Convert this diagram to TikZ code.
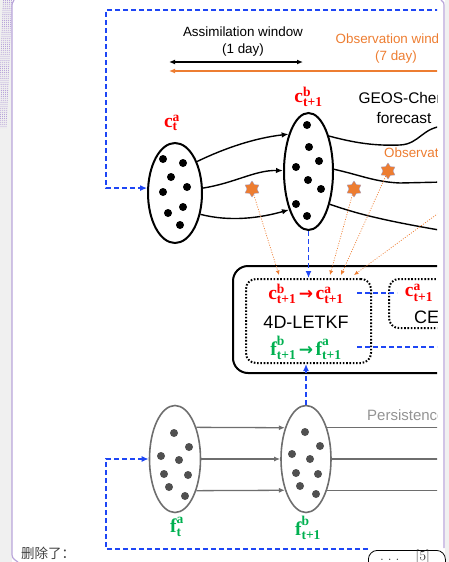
\documentclass[tikz,border=0pt]{standalone}
\usepackage{fix-cm}
\usepackage[no-math]{fontspec}
\setmainfont{Liberation Sans}
\newfontfamily\cjk{Noto Sans CJK SC}
\newfontfamily\lmr{Latin Modern Roman}
\newfontfamily\lser{Liberation Serif}
\newfontfamily\dvs{DejaVu Sans}
\usetikzlibrary{shapes.geometric,arrows.meta,calc}
\definecolor{myred}{RGB}{255,0,0}
\definecolor{mygreen}{RGB}{0,176,80}
\definecolor{myorange}{RGB}{237,125,49}
\definecolor{myblue}{RGB}{30,70,245}
\definecolor{mygray}{RGB}{110,110,110}
\definecolor{dotgray}{RGB}{80,80,80}
\definecolor{mypurple}{RGB}{185,165,218}
\definecolor{margingray}{RGB}{240,240,240}
\newcommand{\lblbig}[1]{\hbox{\lser\bfseries\fontsize{19.5}{20}\selectfont #1}}
\newcommand{\lblsml}[1]{\hbox{\lser\bfseries\fontsize{13.5}{14}\selectfont #1}}
\newcommand{\vv}[3]{$\lblbig{#1}^{\lblsml{#2}}_{\lblsml{#3}}$}
\newcommand{\rarr}{\hspace{2.5pt}{\dvs\bfseries\fontsize{17}{18}\selectfont →}\hspace{2.5pt}}
\begin{document}
\begin{tikzpicture}[x=1pt,y=-1pt,
  blued/.style={myblue, line width=1.8pt, dash pattern=on 5pt off 3pt},
  bluearrow/.style={blued, -{Latex[length=7pt,width=6pt]}},
  blackell/.style={ellipse, draw=black, line width=2pt, inner sep=0pt},
  grayell/.style={ellipse, draw=mygray, line width=1.6pt, inner sep=0pt},
  traj/.style={black, line width=1.4pt},
  trajarrow/.style={traj, -{Latex[length=7pt,width=5.5pt]}},
  ftraj/.style={mygray, line width=1.3pt},
  ftrajarrow/.style={ftraj, -{Latex[length=6pt,width=5pt]}},
  obsline/.style={myorange, line width=0.7pt, dash pattern=on 1pt off 1.5pt, -{Latex[length=4.5pt,width=4pt]}},
  obsstar/.style={star, star points=6, star point ratio=1.6, fill=myorange, draw=blue!30!gray!60, line width=0.3pt, minimum size=16pt, inner sep=0pt},
  lbl/.style={font=\fontsize{16}{18}\selectfont, inner sep=0pt},
  txt/.style={font=\fontsize{13.4}{17}\selectfont, align=center, inner sep=0pt},
  dotbox/.style={draw=black, line width=2pt, dash pattern=on 1.6pt off 1.7pt, rounded corners=10pt, inner sep=0pt},
]
\useasboundingbox (0,0) rectangle (449,562);
% margins
\fill[margingray] (0,0) rectangle (12,562);
\fill[margingray] (445,0) rectangle (449,562);
\foreach \i in {0,...,4} {
  \draw[mypurple, line width=0.8pt, dash pattern=on 1pt off 1pt] (3.5+2*\i,0) -- (-2+2*\i,128);
}
\draw[mypurple, line width=1.2pt] (14,0) .. controls (12,3) .. (12,9) -- (12,551) .. controls (12,558) .. (18,562);
\draw[mypurple, line width=1.2pt] (441,0) .. controls (444,2) .. (444,9) -- (444,548);
\node[font=\cjk\fontsize{13.5}{16}\selectfont, text=black!75, inner sep=0pt] (del) at (48,553) {删除了：};

\begin{scope}
\clip (0,0) rectangle (437,562);
% windows
\node[txt] (aw) at (243,41.5) {Assimilation window\\(1 day)};
\node[txt, text=myorange] (ow) at (396,48.5) {Observation window\\(7 day)};
\coordinate (awl) at (169,62); \coordinate (awr) at (303,62);
\draw[black, line width=1.3pt, {Latex[length=6pt,width=5pt]}-{Latex[length=6pt,width=5pt]}] (awl) -- (awr);
\coordinate (owr) at (440,71); \coordinate (owl) at (169,71);
\draw[myorange, line width=1.4pt, -{Latex[length=6pt,width=5pt]}] (owr) -- (owl);
\node[font=\fontsize{15.4}{20}\selectfont, align=center, inner sep=0pt] (geos) at (404,108) {GEOS-Chem\\forecast};
\node[txt, text=myorange, anchor=west] (obs) at (384,153) {Observations};
\node[font=\fontsize{15}{18}\selectfont, text=gray!85, anchor=west, inner sep=0pt] (pers) at (367,415) {Persistence};

% top ellipses
\node[blackell, minimum width=54pt, minimum height=100pt] (cta) at (175,193) {};
\node[blackell, minimum width=49pt, minimum height=117pt] (ctb) at (308.5,171.5) {};
\foreach \p in {(163,159),(183,163),(171,177),(187,187),(163,192),(168,213),(183,207),(180,225)}
  \fill[black] \p circle (4);
\foreach \p in {(307,125),(309,147),(319,161),(296,167),(308,180),(321,189),(296,204),(307,216)}
  \fill[black] \p circle (4);
\node[lbl, text=myred] (lcta) at (172,123) {\vv{c}{a}{t}};
\node[lbl, text=myred] (lctb) at (308.5,97) {\vv{c}{b}{t+1}};

\draw[trajarrow] (cta.55) .. controls (225,148) and (255,138) .. (ctb.118);
\draw[trajarrow] (cta.10) .. controls (235,183) and (255,170) .. (ctb.178);
\draw[trajarrow] (cta.-40) .. controls (230,222) and (260,218) .. (ctb.-117);
\draw[traj] (ctb.60) .. controls (355,143) and (375,146) .. (400,145) .. controls (420,144) and (422,127) .. (445,126);
\draw[traj] (ctb.5) .. controls (360,175) and (375,182) .. (400,183) -- (445,182);
\draw[traj] (ctb.-57) .. controls (355,213) and (380,220) .. (445,231);

% LETKF boxes
\node[draw=black, line width=2pt, rounded corners=15pt, minimum width=240pt, minimum height=107pt, anchor=north west, inner sep=0pt] (outer) at (232,265) {};
\node[dotbox, minimum width=125pt, minimum height=84pt, anchor=north west] (letkf) at (245,278) {};
\node[dotbox, minimum width=80pt, minimum height=49pt, anchor=north west] (ce) at (388,278) {};
\node[lbl, text=myred] (crow) at (306,294) {\vv{c}{b}{t+1}\rarr\vv{c}{a}{t+1}};
\node[font=\fontsize{18}{20}\selectfont, inner sep=0pt] (lt) at (306,322) {4D-LETKF};
\node[lbl, text=mygreen] (frow) at (306,348) {\vv{f}{b}{t+1}\rarr\vv{f}{a}{t+1}};
\node[lbl, text=myred] (cea) at (419,293) {\vv{c}{a}{t+1}};
\node[font=\fontsize{18}{20}\selectfont, inner sep=0pt, anchor=west] (cet) at (414,317) {CE};

% observations
\node[obsstar] (s1) at (252,189) {};
\node[obsstar] (s2) at (354,189) {};
\node[obsstar] (s3) at (388,171) {};
\coordinate (o1) at (279,275);
\coordinate (o2) at (330,275);
\coordinate (o3) at (341,275);
\coordinate (o4) at (354,275);
\coordinate (o4s) at (440,212);
\draw[obsline] (s1) -- (o1);
\draw[obsline] (s2) -- (o2);
\draw[obsline] (s3) -- (o3);
\draw[obsline] (o4s) -- (o4);

% blue links
\draw[bluearrow] (ctb.south) -- (ctb.south |- letkf.north);
\coordinate (h1s) at (357,293); \coordinate (h1e) at (397,293);
\draw[blued] (h1s) -- (h1e);
\coordinate (h2s) at (357,347); \coordinate (h2e) at (440,347);
\draw[blued] (h2s) -- (h2e);
\coordinate (topr) at (440,10);
\draw[bluearrow] (topr) -- (106,10) |- (cta.170);

% bottom ellipses
\node[grayell, minimum width=51pt, minimum height=107pt] (fta) at (175,459) {};
\node[grayell, minimum width=50pt, minimum height=107pt] (ftb) at (306,459) {};
\foreach \p in {(174,433),(189,447),(161,456),(179,460),(164,474),(188,475),(169,487),(185,496)}
  \fill[dotgray] \p circle (4);
\foreach \p in {(305,432),(320,446),(292,454),(310,459),(296,473),(318,474),(300,486),(316,494)}
  \fill[dotgray] \p circle (4);
\node[lbl, text=mygreen] (lfta) at (177,527) {\vv{f}{a}{t}};
\node[lbl, text=mygreen] (lftb) at (308,528) {\vv{f}{b}{t+1}};
\draw[ftrajarrow] (fta.56) -- (ftb.124);
\draw[ftrajarrow] (fta.east) -- (ftb.west);
\draw[ftrajarrow] (fta.-56) -- (ftb.-124);
\draw[ftraj] (ftb.56) -- ++(140,0);
\draw[ftraj] (ftb.east) -- ++(130,0);
\draw[ftraj] (ftb.-56) -- ++(140,0);
\draw[bluearrow] (ftb.north) -- (ftb.north |- letkf.south);
\coordinate (botr) at (368,549);
\draw[bluearrow] (botr) -- (106,549) |- (fta.west);
\end{scope}

% comment bubble
\node[draw=black, line width=0.8pt, rounded corners=9pt, minimum width=77pt, minimum height=26pt, anchor=north west, inner sep=0pt] (bub) at (368,550) {};
\node[font=\lmr\fontsize{14}{16}\selectfont, inner sep=0pt, text=black!80] (bubt) at (405,557) {.\hspace{4pt}.\hspace{4pt}.\hspace{16pt}[5]};
\end{tikzpicture}
\end{document}
